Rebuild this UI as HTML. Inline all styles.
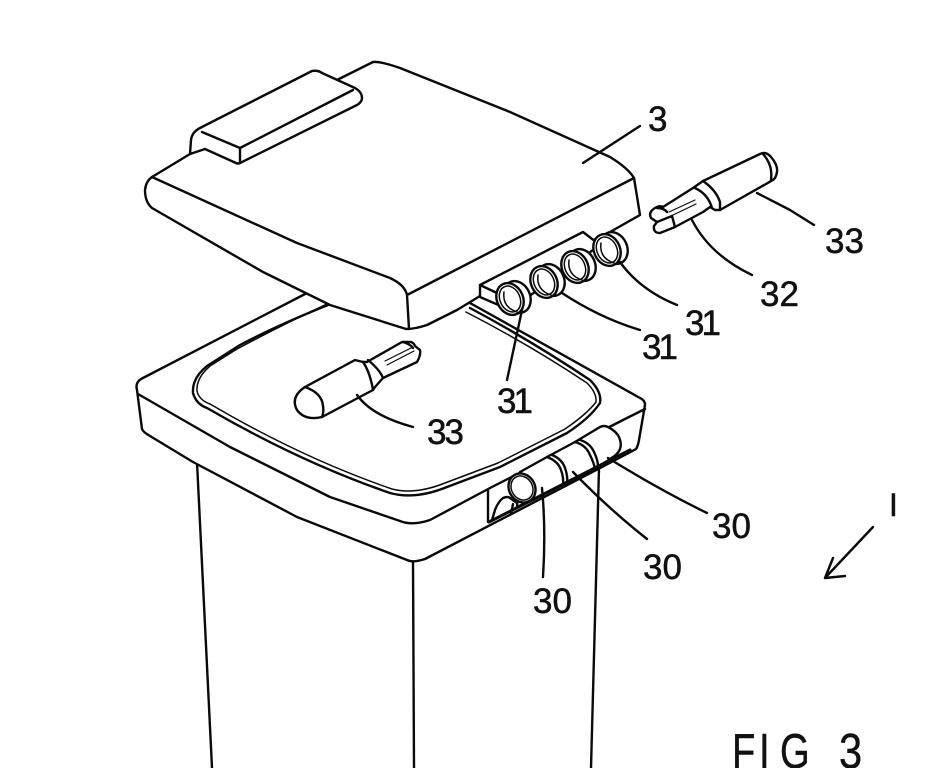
<!DOCTYPE html>
<html><head><meta charset="utf-8"><style>
html,body{margin:0;padding:0;background:#fff}
svg{display:block}
.l{fill:none;stroke:#0a0a0a;stroke-width:2.4;stroke-linecap:round;stroke-linejoin:round}
.t{stroke-width:1.5}
.s{stroke-width:1.2}
.w{fill:#fff}
text{font-family:"Liberation Sans",sans-serif;font-size:35px;fill:#111;stroke:#111;stroke-width:.5}
.n{letter-spacing:-3px}
.f{font-size:49px;stroke-width:.4}
</style></head><body>
<svg width="927" height="768" viewBox="0 0 927 768" xmlns="http://www.w3.org/2000/svg">
<g class="l">
<!-- legs -->
<path d="M197 462L212 768M413 562L414 768M599 468L591 768"/>
<!-- tub rim -->
<path class="w" d="M307 293L141 379Q135 383 137 390L142 429Q143 432 150 436L193 462L297 517L407 560Q413 563 425 559L600 468L636 449Q638 446 639 440L645 405Q645 400 640 398L470 303Z"/>
<path d="M138 394L230 447L330 497L400 521Q412 526 430 520L490 488L623 420L645 409"/>
<!-- seal -->
<path d="M333 303Q280 324 240 345L207 366Q192 378 193 393Q196 404 207 408Q300 462 390 493Q415 500 447 487L500 467L567 433Q590 418 600 403Q602 392 590 380Q530 340 470 308"/>
<path class="t" d="M329 303Q280 326 237 349L210 366Q196 378 197 391Q199 400 210 404Q302 458 392 489Q415 495 445 483L498 463L565 429Q587 414 596 402Q597 393 587 383Q530 345 466 312"/>
<!-- hinge -->
<path d="M488 490L488 522M492 520L495 510Q498 502 503 498Q508 496 510 498L517 503M513 504L511 514"/>
<!-- rollers -->
<path class="w" d="M520 472L547 457L575 442L600 427Q604 425 608 427Q616 431 619 437Q622 444 620 449Q618 454 613 457L597 468L567 482L537 498L517 507Z"/>
<path d="M547 457Q558 461 561 470Q564 478 563 486M552 455Q562 459 565 468Q568 476 567 484M575 442Q586 445 590 455Q594 463 595 469M580 440Q590 443 594 452Q598 460 598 467"/>
<ellipse class="w" cx="522" cy="488" rx="13" ry="15" transform="rotate(-30 522 488)"/>
<ellipse class="t" cx="522" cy="488" rx="10.500" ry="12.500" transform="rotate(-30 522 488)"/>
<path stroke-width="3" d="M489 522L630 450"/>
<!-- leaders 30 -->
<path d="M608 458Q660 490 707 513M573 472Q610 510 647 539M542 488Q546 530 543 577"/>
<!-- lower pin 33 -->
<path class="w" d="M305 387L355 360L363 362L367 362L402 342L411 342Q414 343 415 346L420 350Q421 355 417 362L383 378L375 387L373 390L322 417Q305 421 297 410Q290 397 305 387Z"/>
<path d="M305 387Q322 393 323 406Q324 412 322 417"/>
<path d="M363 362Q370 372 373 390M368 360Q380 370 383 378"/>
<path class="s" d="M385 361L413 347M387 365L414 351"/>
<path d="M403 342Q410 344 413 348"/>
<path d="M357 395Q372 416 413 427"/>
<!-- lid -->
<path class="w" d="M337 80L373 62Q380 61 400 68L510 112L610 157Q628 168 634 178L640 215L610 232L480 296L457 310L427 325Q415 329 406 329L330 305L263 272L152 208Q145 202 145 190Q146 181 152 177L190 154Z"/>
<path d="M152 177L297 243L390 278Q405 285 407 295L634 178M407 295L409 329"/>
<!-- handle -->
<path class="w" d="M200 128L312 71Q318 70 322 73L355 88Q362 92 362 98Q362 102 357 105L240 163Q238 164 236 163L205 149L190 154L191 140Q192 132 200 128Z"/>
<path d="M202 132L240 148L353 90M240 148L240 163"/>
<!-- block -->
<path class="w" d="M480 285L583 232L600 245L510 310L480 297Z"/>
<path d="M480 285L497 293"/>
<!-- rings -->
<g transform="translate(510 299)">
<ellipse class="w" cx="7" cy="-2" rx="13" ry="16.500" transform="rotate(-25 7 -2)"/>
<ellipse class="w" cx="0" cy="0" rx="13" ry="16.500" transform="rotate(-25)"/>
<ellipse class="t" cx="0" cy="0" rx="10" ry="13.500" transform="rotate(-25)"/>
<path class="t" d="M-6 -7Q-8 8 7 13"/>
</g>
<g transform="translate(544 282)">
<ellipse class="w" cx="7" cy="-2" rx="13" ry="16.500" transform="rotate(-25 7 -2)"/>
<ellipse class="w" cx="0" cy="0" rx="13" ry="16.500" transform="rotate(-25)"/>
<ellipse class="t" cx="0" cy="0" rx="10" ry="13.500" transform="rotate(-25)"/>
<path class="t" d="M-6 -7Q-8 8 7 13"/>
</g>
<g transform="translate(575 267)">
<ellipse class="w" cx="7" cy="-2" rx="13" ry="16.500" transform="rotate(-25 7 -2)"/>
<ellipse class="w" cx="0" cy="0" rx="13" ry="16.500" transform="rotate(-25)"/>
<ellipse class="t" cx="0" cy="0" rx="10" ry="13.500" transform="rotate(-25)"/>
<path class="t" d="M-6 -7Q-8 8 7 13"/>
</g>
<g transform="translate(607 250)">
<ellipse class="w" cx="7" cy="-2" rx="13" ry="16.500" transform="rotate(-25 7 -2)"/>
<ellipse class="w" cx="0" cy="0" rx="13" ry="16.500" transform="rotate(-25)"/>
<ellipse class="t" cx="0" cy="0" rx="10" ry="13.500" transform="rotate(-25)"/>
<path class="t" d="M-6 -7Q-8 8 7 13"/>
</g>
<path d="M522 310L507 380M562 293Q600 318 640 330M620 262Q640 290 677 305"/>
<!-- upper pin -->
<path class="w" d="M693 188L703 181L760 154Q766 151 771 157Q778 165 777 172Q776 178 773 180L720 210L715 210L710 207L703 212L675 227L660 233Q653 233 654 226L657 222L651 218Q648 212 655 208Q660 205 663 207Z"/>
<path d="M763 154Q773 165 771 180M695 188Q708 194 712 208M703 181Q716 190 720 202L720 210"/>
<path class="s" d="M669 212L695 200M671 216L696 204"/>
<path d="M657 208Q664 208 667 212M657 222L672 216L675 227"/>
<path d="M692 220Q710 255 752 275M757 193L790 210L814 225"/>
<!-- leader 3 -->
<path d="M583 163L640 126"/>
<!-- arrow and I -->
<path d="M873 527L825 578M825 578L845 576M825 578L833 558"/>
</g>
<g>
<text x="648" y="131">3</text>
<text x="825" y="253">33</text>
<text x="760" y="306">32</text>
<text class="n" x="685" y="335">31</text>
<text class="n" x="642" y="359">31</text>
<text class="n" x="497" y="413">31</text>
<text class="n" x="427" y="444" style="letter-spacing:-2px">33</text>
<text x="712" y="538">30</text>
<text x="643" y="579">30</text>
<text x="533" y="613">30</text>
<text x="889" y="516" style="font-size:32px">I</text>
<text class="f" transform="translate(732 768) scale(.78 1)">F</text>
<text class="f" transform="translate(759 768) scale(.78 1)">I</text>
<text class="f" transform="translate(780 768) scale(.78 1)">G</text>
<text class="f" transform="translate(839 768) scale(.85 1)">3</text>
</g>
</svg>
</body></html>
